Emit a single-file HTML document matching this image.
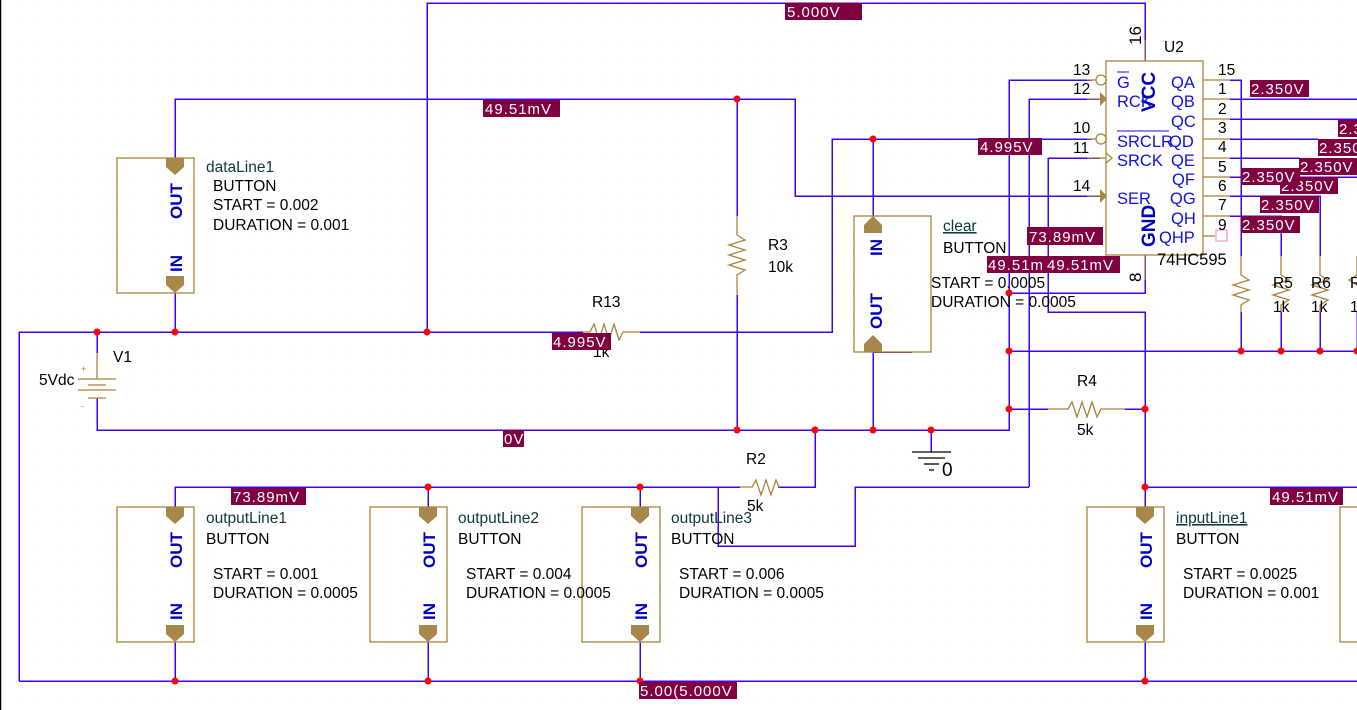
<!DOCTYPE html>
<html><head><meta charset="utf-8"><style>
html,body{margin:0;padding:0;background:#fff;}
svg{display:block;}
text{font-family:"Liberation Sans",Arial,sans-serif;}
.t{font-size:15.5px;fill:#000;}
.c{font-size:15.5px;fill:#0a3a3a;}
.p{font-size:16.5px;fill:#1010e0;}
.pb{font-size:17px;fill:#0000c0;font-weight:bold;}
.v{font-size:15px;fill:#fff;letter-spacing:1px;}
.w{stroke:#4000ff;stroke-width:1.5;fill:none;shape-rendering:crispEdges;}
.b{stroke:#a8843c;stroke-width:1.3;fill:none;}
.a{fill:#a8884a;}
.d{fill:#f00;}
</style></head><body>
<svg width="1357" height="710" viewBox="0 0 1357 710" xmlns="http://www.w3.org/2000/svg">
<defs>
<pattern id="g" x="0" y="0" width="19.4" height="19.4" patternUnits="userSpaceOnUse">
<rect x="19" y="2" width="1" height="1" fill="#cfeaf5"/>
</pattern>
</defs>
<rect width="1357" height="710" fill="url(#g)"/>
<line x1="0.5" y1="0" x2="0.5" y2="710" stroke="#000" stroke-width="1.5"/>

<g class="w">
<polyline points="19,681 19,332 583,332"/>
<polyline points="640,332 832,332 832,139 1092,139"/>
<line x1="873" y1="139" x2="873" y2="218"/>
<polyline points="427,332 427,3 1145,3 1145,61"/>
<line x1="97" y1="332" x2="97" y2="353"/>
<polyline points="97,398 97,430 1009,430 1009,80 1092,80"/>
<line x1="931" y1="430" x2="931" y2="452"/>
<polyline points="175,158 175,99 795,99 795,196 1100,196"/>
<line x1="737" y1="99" x2="737" y2="216"/>
<line x1="737" y1="295" x2="737" y2="430"/>
<line x1="175" y1="293" x2="175" y2="332"/>
<polyline points="873,352 873,430"/>
<line x1="873" y1="352" x2="912" y2="352"/>
<polyline points="1029,487 1029,99 1100,99"/>
<polyline points="1029,487 855,487 855,546 718,546 718,487"/>
<polyline points="175,507 175,487 740,487"/>
<polyline points="778,487 815,487 815,430"/>
<line x1="428" y1="487" x2="428" y2="507"/>
<line x1="640" y1="487" x2="640" y2="507"/>
<polyline points="1048,158 1100,158"/>
<polyline points="1048,158 1048,312 1145,312 1145,507"/>
<line x1="1145" y1="487" x2="1357" y2="487"/>
<polyline points="1145,255 1145,293 1009,293"/>
<line x1="1009" y1="351" x2="1357" y2="351"/>
<line x1="1009" y1="409" x2="1048" y2="409"/>
<line x1="1125" y1="409" x2="1145" y2="409"/>
<line x1="19" y1="681" x2="1357" y2="681"/>
<line x1="175" y1="642" x2="175" y2="681"/>
<line x1="428" y1="642" x2="428" y2="681"/>
<line x1="640" y1="642" x2="640" y2="681"/>
<line x1="1145" y1="642" x2="1145" y2="681"/>
<polyline points="1230,80 1241,80 1241,256"/>
<line x1="1241" y1="312" x2="1241" y2="351"/>
<line x1="1230" y1="99" x2="1357" y2="99"/>
<line x1="1230" y1="119" x2="1357" y2="119"/>
<line x1="1230" y1="139" x2="1318" y2="139"/>
<line x1="1230" y1="158" x2="1300" y2="158"/>
<line x1="1230" y1="177" x2="1357" y2="177"/>
<polyline points="1230,196 1320,196 1320,256"/>
<polyline points="1230,216 1281,216 1281,256"/>
<line x1="1281" y1="312" x2="1281" y2="351"/>
<line x1="1320" y1="312" x2="1320" y2="351"/>
<line x1="1357" y1="312" x2="1357" y2="351"/>
</g>

<g class="b">
<polyline points="737,216 737,235 745,240 729,245 745,250 729,255 745,260 729,265 745,270 737,275 737,295"/>
<polyline points="583,332 590,332 594,324 599,340 604,324 609,340 614,324 619,340 623,332 640,332" />
<polyline points="740,487 752,487 756,480 761,495 766,480 771,495 776,480 779,487 778,487"/>
<polyline points="1048,409 1068,409 1072,402 1077,417 1082,402 1087,417 1092,402 1097,417 1101,409 1125,409"/>
<polyline points="1241,256 1241,275 1249,280 1233,285 1249,290 1233,295 1249,300 1241,305 1241,312"/>
<polyline points="1281,256 1281,275 1289,280 1273,285 1289,290 1273,295 1289,300 1281,305 1281,312"/>
<polyline points="1320,256 1320,275 1328,280 1312,285 1328,290 1312,295 1328,300 1320,305 1320,312"/>
<polyline points="1357,256 1357,275 1349,280 1357,285"/>
<line x1="97" y1="353" x2="97" y2="379"/>
<line x1="78" y1="379" x2="116" y2="379"/>
<line x1="88" y1="385" x2="106" y2="385"/>
<line x1="78" y1="390" x2="116" y2="390"/>
<line x1="88" y1="398" x2="106" y2="398"/>
<rect x="117" y="158" width="77" height="135"/>
<rect x="854" y="216" width="77" height="136"/>
<rect x="117" y="507" width="77" height="135"/>
<rect x="370" y="507" width="77" height="135"/>
<rect x="582" y="507" width="78" height="135"/>
<rect x="1087" y="507" width="77" height="135"/>
<rect x="1340" y="507" width="30" height="135"/>
<rect x="1106" y="61" width="97" height="194"/>
<line x1="1145" y1="40" x2="1145" y2="61"/>
<line x1="1145" y1="255" x2="1145" y2="280"/>
<line x1="1087" y1="80" x2="1096" y2="80"/>
<circle cx="1101" cy="80" r="5"/>
<line x1="1087" y1="99" x2="1100" y2="99"/>
<line x1="1087" y1="139" x2="1096" y2="139"/>
<circle cx="1101" cy="139" r="5"/>
<line x1="1087" y1="158" x2="1106" y2="158"/>
<polyline points="1106,153 1112,158 1106,163"/>
<line x1="1087" y1="196" x2="1100" y2="196"/>
<line x1="1203" y1="80" x2="1230" y2="80"/>
<line x1="1203" y1="99" x2="1230" y2="99"/>
<line x1="1203" y1="119" x2="1230" y2="119"/>
<line x1="1203" y1="139" x2="1230" y2="139"/>
<line x1="1203" y1="158" x2="1230" y2="158"/>
<line x1="1203" y1="177" x2="1230" y2="177"/>
<line x1="1203" y1="196" x2="1230" y2="196"/>
<line x1="1203" y1="216" x2="1230" y2="216"/>
<line x1="1203" y1="236" x2="1215" y2="236"/>
</g>
<rect x="1216" y="230" width="11" height="11" fill="none" stroke="#f080c0" stroke-width="1"/>
<polygon class="a" points="1100,92 1107,99 1100,106"/>
<polygon class="a" points="1100,189 1107,196 1100,203"/>

<g class="a">
<polygon points="166,158 184,158 184,167 175,175 166,167"/>
<polygon points="166,276 184,276 184,285 175,293 166,285"/>
<polygon points="419,507 437,507 437,516 428,524 419,516"/>
<polygon points="419,625 437,625 437,634 428,642 419,634"/>
<polygon points="631,507 649,507 649,516 640,524 631,516"/>
<polygon points="631,625 649,625 649,634 640,642 631,634"/>
<polygon points="166,507 184,507 184,516 175,524 166,516"/>
<polygon points="166,625 184,625 184,634 175,642 166,634"/>
<polygon points="1136,507 1154,507 1154,516 1145,524 1136,516"/>
<polygon points="1136,625 1154,625 1154,634 1145,642 1136,634"/>
<polygon points="873,216 882,225 882,233 864,233 864,225"/>
<polygon points="873,335 882,344 882,352 864,352 864,344"/>
</g>

<g stroke="#000" stroke-width="1.3">
<line x1="912" y1="452" x2="951" y2="452"/>
<line x1="918" y1="458" x2="945" y2="458"/>
<line x1="924" y1="464" x2="939" y2="464"/>
<line x1="929" y1="470" x2="934" y2="470"/>
</g>

<g class="d">
<circle cx="97" cy="332" r="3.5"/><circle cx="175" cy="332" r="3.5"/><circle cx="427" cy="332" r="3.5"/>
<circle cx="737" cy="99" r="3.5"/><circle cx="873" cy="139" r="3.5"/>
<circle cx="737" cy="430" r="3.5"/><circle cx="815" cy="430" r="3.5"/><circle cx="873" cy="430" r="3.5"/><circle cx="931" cy="430" r="3.5"/>
<circle cx="1009" cy="293" r="3.5"/><circle cx="1009" cy="351" r="3.5"/><circle cx="1009" cy="409" r="3.5"/>
<circle cx="1145" cy="409" r="3.5"/><circle cx="1145" cy="487" r="3.5"/>
<circle cx="1241" cy="351" r="3.5"/><circle cx="1281" cy="351" r="3.5"/><circle cx="1320" cy="351" r="3.5"/><circle cx="1357" cy="351" r="3.5"/>
<circle cx="428" cy="487" r="3.5"/><circle cx="640" cy="487" r="3.5"/>
<circle cx="175" cy="681" r="3.5"/><circle cx="428" cy="681" r="3.5"/><circle cx="640" cy="681" r="3.5"/><circle cx="1145" cy="681" r="3.5"/>
</g>

<g class="pb">
<text transform="translate(182,219) rotate(-90)">OUT</text>
<text transform="translate(182,272) rotate(-90)">IN</text>
<text transform="translate(182,568) rotate(-90)">OUT</text>
<text transform="translate(182,620) rotate(-90)">IN</text>
<text transform="translate(435,568) rotate(-90)">OUT</text>
<text transform="translate(435,620) rotate(-90)">IN</text>
<text transform="translate(647,568) rotate(-90)">OUT</text>
<text transform="translate(647,620) rotate(-90)">IN</text>
<text transform="translate(1152,568) rotate(-90)">OUT</text>
<text transform="translate(1152,620) rotate(-90)">IN</text>
<text transform="translate(882,256) rotate(-90)">IN</text>
<text transform="translate(882,329) rotate(-90)">OUT</text>
<text transform="translate(1155,112) rotate(-90)" style="font-size:19px">VCC</text>
<text transform="translate(1155,247) rotate(-90)" style="font-size:19px">GND</text>
</g>

<g class="p">
<text x="1117" y="88">G</text>
<line x1="1117" y1="72" x2="1129" y2="72" stroke="#1010e0" stroke-width="1"/>
<text x="1117" y="107">RCK</text>
<text x="1117" y="147">SRCLR</text>
<line x1="1117" y1="131" x2="1169" y2="131" stroke="#1010e0" stroke-width="1"/>
<text x="1117" y="166">SRCK</text>
<text x="1117" y="204">SER</text>
<text x="1171" y="88">QA</text>
<text x="1171" y="107">QB</text>
<text x="1171" y="127">QC</text>
<text x="1169" y="147">QD</text>
<text x="1171" y="166">QE</text>
<text x="1172" y="185">QF</text>
<text x="1170" y="204">QG</text>
<text x="1171" y="224">QH</text>
<text x="1159" y="243">QHP</text>
</g>

<g class="t">
<text x="1073" y="75">13</text><text x="1073" y="94">12</text>
<text x="1073" y="133">10</text><text x="1073" y="153">11</text>
<text x="1073" y="191">14</text>
<text x="1218" y="75">15</text><text x="1218" y="94">1</text><text x="1218" y="114">2</text>
<text x="1218" y="133">3</text><text x="1218" y="152">4</text><text x="1218" y="172">5</text>
<text x="1218" y="191">6</text><text x="1218" y="210">7</text><text x="1218" y="230">9</text>
<text transform="translate(1141,45) rotate(-90)" style="font-size:17px">16</text>
<text transform="translate(1141,282) rotate(-90)" style="font-size:17px">8</text>
<text x="1164" y="52">U2</text>
<text x="1157" y="265" style="font-size:16.5px">74HC595</text>
</g>

<g class="t">
<text class="c" x="206" y="172">dataLine1</text>
<text x="213" y="191">BUTTON</text>
<text x="213" y="210">START = 0.002</text>
<text x="213" y="230">DURATION = 0.001</text>
<text x="768" y="250">R3</text><text x="768" y="272">10k</text>
<text x="592" y="307">R13</text><text x="593" y="357">1k</text>
<text x="113" y="362">V1</text><text x="39" y="385">5Vdc</text>
<text x="81" y="372" style="font-size:9px;fill:#a8843c">+</text>
<text x="81" y="409" style="font-size:9px;fill:#a8843c">-</text>
<text class="c" x="943" y="231" text-decoration="underline">clear</text>
<text x="943" y="253">BUTTON</text>
<text x="931" y="288">START = 0.0005</text>
<text x="931" y="307">DURATION = 0.0005</text>
<text x="746" y="464">R2</text><text x="747" y="511">5k</text>
<text x="1077" y="386">R4</text><text x="1077" y="435">5k</text>
<text x="942" y="476" style="font-size:19px">0</text>
<text x="1273" y="288">R5</text><text x="1273" y="312">1k</text>
<text x="1311" y="288">R6</text><text x="1311" y="312">1k</text>
<text x="1350" y="288">R</text><text x="1350" y="312">1</text>
<text class="c" x="206" y="523">outputLine1</text>
<text x="206" y="544">BUTTON</text>
<text x="213" y="579">START = 0.001</text>
<text x="213" y="598">DURATION = 0.0005</text>
<text class="c" x="458" y="523">outputLine2</text>
<text x="458" y="544">BUTTON</text>
<text x="466" y="579">START = 0.004</text>
<text x="466" y="598">DURATION = 0.0005</text>
<text class="c" x="671" y="523">outputLine3</text>
<text x="671" y="544">BUTTON</text>
<text x="679" y="579">START = 0.006</text>
<text x="679" y="598">DURATION = 0.0005</text>
<text class="c" x="1176" y="523" text-decoration="underline">inputLine1</text>
<text x="1176" y="544">BUTTON</text>
<text x="1183" y="579">START = 0.0025</text>
<text x="1183" y="598">DURATION = 0.001</text>
</g>

<g>
<rect x="785" y="3" width="77" height="17" fill="#800040"/><text class="v" x="787" y="17">5.000V</text>
<rect x="483" y="100" width="77" height="17" fill="#800040"/><text class="v" x="485" y="114">49.51mV</text>
<rect x="978" y="138" width="64" height="17" fill="#800040"/><text class="v" x="980" y="152">4.995V</text>
<rect x="552" y="333" width="59" height="17" fill="#800040"/><text class="v" x="553" y="347">4.995V</text>
<rect x="1027" y="227" width="76" height="18" fill="#800040"/><text class="v" x="1029" y="242">73.89mV</text>
<rect x="987" y="256" width="62" height="17" fill="#800040"/><text class="v" x="988" y="270">49.51m</text>
<rect x="1046" y="256" width="74" height="17" fill="#800040"/><text class="v" x="1047" y="270">49.51mV</text>
<rect x="503" y="430" width="21" height="17" fill="#800040"/><text class="v" x="504" y="444">0V</text>
<rect x="231" y="488" width="75" height="17" fill="#800040"/><text class="v" x="233" y="502">73.89mV</text>
<rect x="1270" y="488" width="73" height="17" fill="#800040"/><text class="v" x="1272" y="502">49.51mV</text>
<rect x="639" y="682" width="98" height="17" fill="#800040"/><text class="v" x="640" y="696">5.00(5.000V</text>
<rect x="1250" y="80" width="59" height="17" fill="#800040"/><text class="v" x="1251" y="94">2.350V</text>
<rect x="1338" y="120" width="19" height="17" fill="#800040"/><text class="v" x="1339" y="134">2.3</text>
<rect x="1318" y="139" width="39" height="17" fill="#800040"/><text class="v" x="1319" y="153">2.350</text>
<rect x="1299" y="158" width="58" height="17" fill="#800040"/><text class="v" x="1300" y="172">2.350V</text>
<rect x="1280" y="177" width="58" height="17" fill="#800040"/><text class="v" x="1281" y="191">2.350V</text>
<rect x="1241" y="168" width="59" height="17" fill="#800040"/><text class="v" x="1242" y="182">2.350V</text>
<rect x="1260" y="196" width="59" height="17" fill="#800040"/><text class="v" x="1261" y="210">2.350V</text>
<rect x="1241" y="216" width="59" height="17" fill="#800040"/><text class="v" x="1242" y="230">2.350V</text>
</g>
</svg>
</body></html>
